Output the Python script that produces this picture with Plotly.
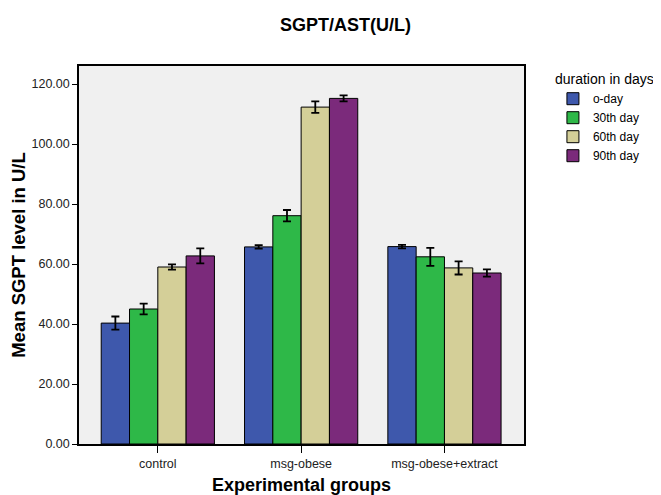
import plotly.graph_objects as go

groups = ["control", "msg-obese", "msg-obese+extract"]
series_names = ["o-day", "30th day", "60th day", "90th day"]
values = {
    "o-day":    [40.3, 65.7, 65.8],
    "30th day": [45.0, 76.1, 62.4],
    "60th day": [59.0, 112.3, 58.7],
    "90th day": [62.7, 115.2, 57.0],
}
errors = {
    "o-day":    [2.2, 0.6, 0.6],
    "30th day": [1.8, 1.9, 3.0],
    "60th day": [0.9, 1.9, 2.2],
    "90th day": [2.5, 1.0, 1.2],
}
colors = ["#3E58AC", "#2EB848", "#D4CF98", "#7B2A7B"]
y_ticks = [0, 20, 40, 60, 80, 100, 120]
y_tick_labels = ["0.00", "20.00", "40.00", "60.00", "80.00", "100.00", "120.00"]

W, H = 653, 487  # page adds an 8px body margin

fig = go.Figure()
for name, c in zip(series_names, colors):
    fig.add_trace(go.Bar(
        name=name, x=groups, y=values[name],
        marker=dict(color=c, line=dict(color="black", width=1)),
        error_y=dict(type="data", array=errors[name], color="black",
                     thickness=1.8, width=4),
    ))

fig.update_layout(
    width=W, height=H,
    barmode="group", bargap=0.21, bargroupgap=0,
    paper_bgcolor="white", plot_bgcolor="#F0F0F0",
    margin=dict(l=71, r=137, t=58, b=51, autoexpand=False),
    font=dict(family="Arial, Liberation Sans, sans-serif", color="#222"),
    title=dict(text="<b>SGPT/AST(U/L)</b>", x=337.5 / W, xanchor="center",
               y=1 - 17 / H, yanchor="middle",
               font=dict(size=18, color="black")),
    showlegend=True,
    legend=dict(x=1.065, xanchor="left", y=1.0, yanchor="top",
                title=dict(text="duration in days", font=dict(size=14, color="black")),
                font=dict(size=12, color="black"), bgcolor="rgba(0,0,0,0)",
                itemwidth=30, tracegroupgap=0),
    xaxis=dict(
        title=dict(text="<b>Experimental groups</b>", font=dict(size=18, color="black"),
                   standoff=10),
        automargin=False,
        range=[-0.55, 2.555], showline=True, linecolor="black", linewidth=1.5,
        mirror=True, ticks="outside", ticklen=7, tickcolor="black",
        tickfont=dict(size=12.5, color="#222"), showgrid=False,
    ),
    yaxis=dict(
        title=dict(text="<b>Mean SGPT level in U/L</b>", font=dict(size=18.5, color="black"),
                   standoff=1),
        automargin=False,
        range=[0, 126], tickvals=y_ticks, ticktext=y_tick_labels,
        showline=True, linecolor="black", linewidth=1.5, mirror=True,
        ticks="outside", ticklen=5, tickcolor="black",
        tickfont=dict(size=12.5, color="#222"), showgrid=False, zeroline=False,
    ),
)

fig.write_html("out.html")
